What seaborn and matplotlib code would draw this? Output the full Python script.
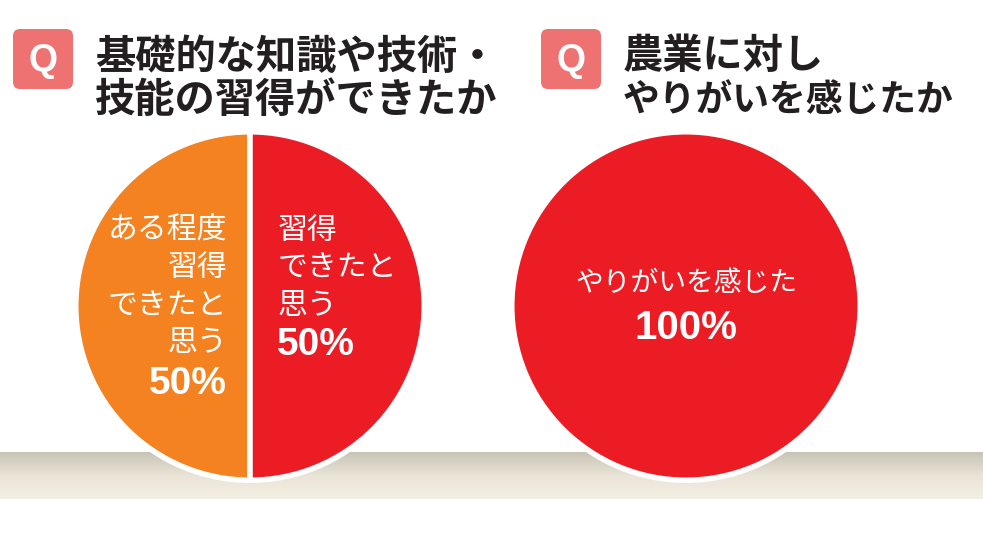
import numpy as np
import matplotlib
matplotlib.use("Agg")
import matplotlib.pyplot as plt
from matplotlib.patches import FancyBboxPatch
import seaborn as sns

# chart data
skill_title = ["基礎的な知識や技術・", "技能の習得ができたか"]
skill_labels = [["ある程度", "習得", "できたと", "思う"], ["習得", "できたと", "思う"]]
skill_values = [50, 50]
skill_colors = ["#F58220", "#EC1C24"]

motiv_title = ["農業に対し", "やりがいを感じたか"]
motiv_labels = [["やりがいを感じた"]]
motiv_values = [100]
motiv_colors = ["#EC1C24"]

sns.set_theme(style="white")
plt.rcParams["font.family"] = ["Noto Sans CJK JP", "DejaVu Sans"]

W, H = 983, 537
fig = plt.figure(figsize=(W / 100, H / 100), dpi=100)
fig.patch.set_facecolor("white")

# background axes in pixel coords
bg = fig.add_axes([0, 0, 1, 1])
bg.set_xlim(0, W)
bg.set_ylim(H, 0)
bg.axis("off")

# floor band with gradient
grad = np.linspace(0, 1, 64).reshape(-1, 1)
cmap = matplotlib.colors.LinearSegmentedColormap.from_list("floor", ["#C9C5B6", "#E9E4D6", "#F4EFE4"])
bg.imshow(grad, cmap=cmap, extent=[0, W, 499, 452], aspect="auto", zorder=0)


def draw_title(x0, lines, sizes):
    badge = FancyBboxPatch((x0 + 4, 29), 60, 60, boxstyle="round,pad=0,rounding_size=7",
                           fc="#EF7273", ec="none", zorder=2)
    bg.add_patch(badge)
    bg.text(x0 + 34, 61, "Q", color="white", fontsize=27, fontweight="bold",
            family="Liberation Sans", ha="center", va="center", zorder=3)
    for i, (line, fs) in enumerate(zip(lines, sizes)):
        bg.text(x0 + 86, 57 + i * 44, line, color="#231F20", fontsize=fs,
                fontweight="bold", ha="left", va="center", zorder=3)


draw_title(9, skill_title, [29, 29])
draw_title(537, motiv_title, [29, 26.5])


def pie_axes(cx, cy, r):
    ax = fig.add_axes([(cx - r) / W, (H - cy - r) / H, 2 * r / W, 2 * r / H])
    return ax


def finish(ax):
    ax.set_xlim(-1, 1)
    ax.set_ylim(-1, 1)
    ax.axis("off")


# left pie
ax1 = pie_axes(250, 306, 176)
wedges, _ = ax1.pie(skill_values, colors=skill_colors, startangle=90, counterclock=True,
                    radius=0.99, wedgeprops=dict(edgecolor="white", linewidth=4))
for w in wedges:
    w.set_clip_on(False)
finish(ax1)

line_y = [0.43, 0.22, 0.005, -0.21, -0.43]
for lines, val, x, ha in zip(skill_labels, skill_values, [-0.13, 0.155], ["right", "left"]):
    for i, line in enumerate(lines):
        ax1.text(x, line_y[i], line, color="white", fontsize=21.5, ha=ha, va="center")
    ax1.text(x, line_y[len(lines)] - 0.012, f"{val}%", color="white", fontsize=28,
             fontweight="bold", family="Liberation Sans", ha=ha, va="center")

# right pie
ax2 = pie_axes(686, 306, 176)
wedges, _ = ax2.pie(motiv_values, colors=motiv_colors, startangle=90, radius=0.99,
                    wedgeprops=dict(edgecolor="white", linewidth=4))
for w in wedges:
    w.set_clip_on(False)
finish(ax2)
for lines, val in zip(motiv_labels, motiv_values):
    ax2.text(0, 0.13, lines[0], color="white", fontsize=20, ha="center", va="center")
    ax2.text(0, -0.125, f"{val}%", color="white", fontsize=29, fontweight="bold",
             family="Liberation Sans", ha="center", va="center")

fig.savefig("out.png", dpi=100)
